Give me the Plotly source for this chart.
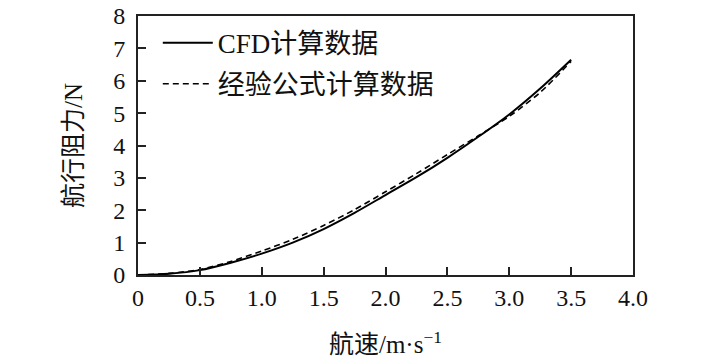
import plotly.graph_objects as go

speed = [0, 0.25, 0.5, 0.75, 1.0, 1.25, 1.5, 1.75, 2.0, 2.25, 2.5, 2.75, 3.0, 3.25, 3.5]
cfd = [0, 0.04, 0.15, 0.38, 0.66, 1.0, 1.42, 1.92, 2.47, 3.02, 3.62, 4.27, 4.96, 5.76, 6.65]
empirical = [0, 0.05, 0.17, 0.42, 0.74, 1.1, 1.53, 2.02, 2.57, 3.13, 3.72, 4.3, 4.9, 5.64, 6.6]

x_ticks = [0, 0.5, 1.0, 1.5, 2.0, 2.5, 3.0, 3.5, 4.0]
x_ticktext = ["0", "0.5", "1.0", "1.5", "2.0", "2.5", "3.0", "3.5", "4.0"]
y_ticks = [0, 1, 2, 3, 4, 5, 6, 7, 8]

FONT = "Liberation Serif, Times New Roman, Noto Sans CJK SC, serif"

fig = go.Figure()
fig.add_trace(go.Scatter(x=speed, y=cfd, mode="lines", name="CFD计算数据",
                         line=dict(color="black", width=2, shape="spline", smoothing=0.8),
                         legendgroup="a"))
fig.add_trace(go.Scatter(x=speed, y=empirical, mode="lines", name="经验公式计算数据",
                         line=dict(color="black", width=1.6, dash="6px,4px", shape="spline", smoothing=0.8),
                         legendgroup="b"))

axis_common = dict(showline=True, linecolor="#222", linewidth=2, mirror=True,
                   ticks="inside", ticklen=8, tickwidth=2, tickcolor="#222",
                   showgrid=False, zeroline=False, automargin=False,
                   ticklabeloverflow="allow",
                   tickfont=dict(family=FONT, size=24, color="#111"))

fig.update_layout(
    width=709, height=363,
    margin=dict(l=138, r=76, t=16, b=88),
    paper_bgcolor="white", plot_bgcolor="white",
    font=dict(family=FONT, color="#111"),
    xaxis=dict(range=[0, 4.0], tickvals=x_ticks, ticktext=x_ticktext,
               title=dict(text="航速/m·s<sup>−1</sup>", font=dict(family=FONT, size=25), standoff=26),
               **axis_common),
    yaxis=dict(range=[0, 8], tickvals=y_ticks, ticklabelstandoff=6,
               title=dict(text="航行阻力/N", font=dict(family=FONT, size=25), standoff=23),
               **axis_common),
    legend=dict(x=0.04, y=0.99, xanchor="left", yanchor="top",
                font=dict(family=FONT, size=27, color="#111"),
                itemwidth=50,
                bgcolor="rgba(0,0,0,0)", tracegroupgap=3, traceorder="grouped"),
    showlegend=True,
)

fig.write_html("out.html", config={"displayModeBar": False},
               post_script="document.body.style.margin='0';")
